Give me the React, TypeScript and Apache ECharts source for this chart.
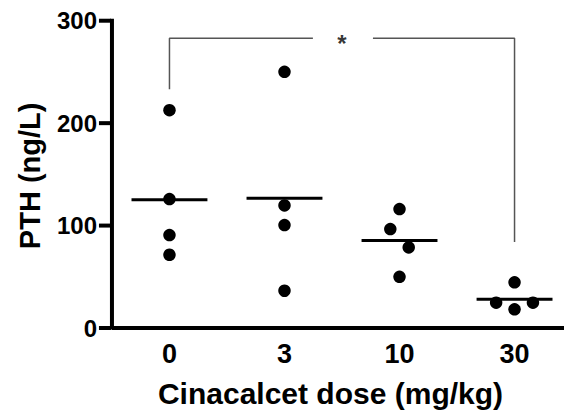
import React, { useEffect, useRef } from "react";
import * as echarts from "echarts";

const categories = ["0", "3", "10", "30"];
const yTicks = [0, 100, 200, 300];
// PTH values (ng/L) per dose group
const dose0 = [212.7, 125.9, 90.7, 71.5];
const dose3 = [250.1, 119.7, 100.5, 36.4];
const dose10 = [116.1, 96.6, 78.7, 50.0];
const dose30 = [44.6, 24.7, 24.7, 18.2];
// horizontal spread of overlapping dots (in category units)
const jitter0 = [0, 0, 0, 0];
const jitter3 = [0, 0, 0, 0];
const jitter10 = [0, -0.08, 0.08, 0];
const jitter30 = [0, -0.16, 0.16, 0];
// significance bracket between 0 and 30 mg/kg
const bracketLeftEnd = 233;
const bracketTop = 283;
const bracketRightEnd = 84;
const bracketLabel = "*";

const groups = [dose0, dose3, dose10, dose30];
const jitters = [jitter0, jitter3, jitter10, jitter30];

// axis frame position (data units) and padded view range around it
const AXIS_X = -0.5;
const AXIS_Y = yTicks[0];
const TOP_Y = yTicks[yTicks.length - 1];
const X_MIN = -0.63;
const X_MAX = 3.43;
const Y_MIN = -8;
const Y_MAX = 305;

const FONT = "'Liberation Sans', Arial, Helvetica, sans-serif";

export default function App() {
  const ref = useRef<HTMLDivElement>(null);
  useEffect(() => {
    if (!ref.current) return;
    const chart = echarts.init(ref.current, null, { renderer: "svg" });
    const points: number[][] = [];
    groups.forEach((g, i) => g.forEach((v, j) => points.push([i + jitters[i][j], v])));
    const meanSeries = groups.map((g, i) => {
      const m = g.reduce((a, b) => a + b, 0) / g.length;
      return {
        type: "line",
        data: [
          [i - 0.33, m],
          [i + 0.33, m],
        ],
        symbol: "none",
        lineStyle: { color: "#000", width: 3 },
        z: 3,
      };
    });
    const bracketStyle = { color: "#555", width: 1.5 };
    chart.setOption({
      animation: false,
      grid: { left: 97, top: 15.6, bottom: 77.8, right: 0 },
      xAxis: {
        type: "value",
        min: X_MIN,
        max: X_MAX,
        axisLine: { show: false },
        axisTick: { show: false },
        axisLabel: {
          customValues: [0, 1, 2, 3],
          formatter: (v: number) => categories[Math.round(v)] ?? "",
          color: "#000",
          fontSize: 27,
          fontWeight: "bold",
          fontFamily: FONT,
          margin: 4,
        },
        name: "Cinacalcet dose (mg/kg)",
        nameLocation: "middle",
        nameGap: 42,
        nameTextStyle: { color: "#000", fontSize: 30, fontWeight: "bold", fontFamily: FONT },
        splitLine: { show: false },
      },
      yAxis: {
        type: "value",
        min: Y_MIN,
        max: Y_MAX,
        axisLine: { show: false },
        axisTick: { show: false },
        axisLabel: {
          customValues: yTicks,
          color: "#000",
          fontSize: 24,
          fontWeight: "bold",
          fontFamily: FONT,
          margin: 0,
        },
        splitLine: { show: false },
        name: "PTH (ng/L)",
        nameLocation: "middle",
        nameGap: 53,
        nameTextStyle: { color: "#000", fontSize: 29, fontWeight: "bold", fontFamily: FONT },
      },
      series: [
        // axis frame, drawn inside the grid through the scales
        {
          type: "line",
          data: [
            [AXIS_X, TOP_Y],
            [AXIS_X, AXIS_Y],
            [X_MAX, AXIS_Y],
          ],
          symbol: "none",
          clip: false,
          lineStyle: { color: "#000", width: 4, cap: "square" },
          z: 5,
          silent: true,
        },
        {
          type: "scatter",
          data: yTicks.map((v) => [AXIS_X, v]),
          symbol: "rect",
          symbolSize: [12, 4],
          symbolOffset: [-7, 0],
          clip: false,
          itemStyle: { color: "#000", opacity: 1 },
          z: 5,
          silent: true,
        },
        {
          type: "line",
          data: [
            [0, bracketLeftEnd],
            [0, bracketTop],
            [1.247, bracketTop],
          ],
          symbol: "none",
          lineStyle: bracketStyle,
        },
        {
          type: "line",
          data: [
            [1.769, bracketTop],
            [3, bracketTop],
            [3, bracketRightEnd],
          ],
          symbol: "none",
          lineStyle: bracketStyle,
        },
        {
          type: "scatter",
          data: [[1.5, bracketTop]],
          symbolSize: 0,
          label: {
            show: true,
            formatter: bracketLabel,
            position: "inside",
            offset: [0, 5],
            color: "#000",
            fontSize: 24,
            fontWeight: "bold",
            fontFamily: FONT,
          },
        },
        ...meanSeries,
        {
          type: "scatter",
          data: points,
          symbol: "circle",
          symbolSize: 12.5,
          itemStyle: { color: "#000", opacity: 1 },
          z: 4,
        },
      ],
    });
    return () => chart.dispose();
  }, []);
  return (
    <div
      ref={ref}
      style={{ position: "fixed", left: 0, top: 0, width: 564, height: 414, background: "#fff" }}
    />
  );
}
